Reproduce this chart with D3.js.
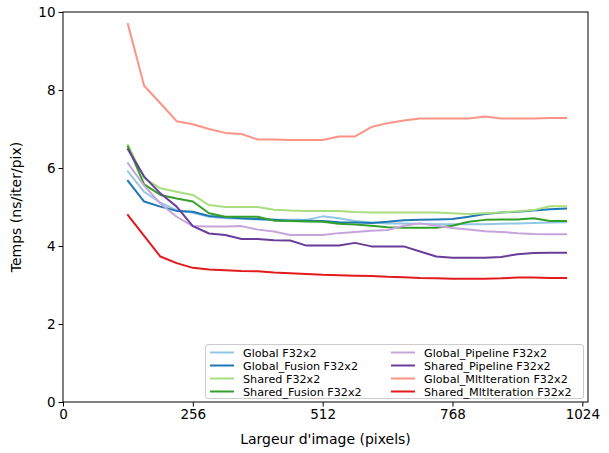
<!DOCTYPE html>
<html><head><meta charset="utf-8">
<script src="https://cdn.jsdelivr.net/npm/d3@7"></script>
<style>body{margin:0;background:#fff}svg text{font-family:"DejaVu Sans",sans-serif}</style>
</head><body>
<svg id="c" width="609" height="453"></svg>
<script>
const xValues = [128,160,192,224,256,288,320,352,384,416,448,480,512,544,576,608,640,672,704,736,768,800,832,864,896,928,960,992];
const seriesNames = ["Global F32x2","Global_Fusion F32x2","Shared F32x2","Shared_Fusion F32x2","Global_Pipeline F32x2","Shared_Pipeline F32x2","Global_MltIteration F32x2","Shared_MltIteration F32x2"];
const seriesColors = ["#92c6e6","#1f78b4","#a8dd80","#33a02c","#c6a4dc","#6a3d9a","#fb9486","#e31a1c"];
const globalF32 = [5.91,5.39,5.11,4.92,4.85,4.75,4.71,4.70,4.68,4.67,4.67,4.67,4.76,4.71,4.64,4.60,4.58,4.58,4.57,4.56,4.56,4.56,4.56,4.57,4.58,4.59,4.60,4.61];
const globalFusion = [5.67,5.14,5.01,4.90,4.88,4.77,4.74,4.71,4.69,4.67,4.65,4.65,4.64,4.61,4.60,4.59,4.62,4.66,4.67,4.68,4.69,4.75,4.82,4.86,4.88,4.91,4.94,4.96];
const sharedF32 = [6.59,5.74,5.48,5.39,5.31,5.05,5.00,5.00,5.00,4.93,4.91,4.90,4.90,4.90,4.87,4.86,4.86,4.86,4.86,4.86,4.84,4.82,4.84,4.86,4.89,4.92,5.02,5.02];
const sharedFusion = [6.55,5.58,5.31,5.22,5.14,4.84,4.75,4.75,4.75,4.65,4.64,4.63,4.62,4.57,4.55,4.52,4.48,4.47,4.47,4.47,4.52,4.62,4.67,4.68,4.68,4.71,4.64,4.64];
const globalPipeline = [6.12,5.55,5.09,4.75,4.51,4.50,4.50,4.51,4.42,4.37,4.28,4.28,4.28,4.33,4.36,4.39,4.41,4.52,4.58,4.52,4.46,4.42,4.38,4.36,4.33,4.31,4.30,4.30];
const sharedPipeline = [6.48,5.78,5.35,5.01,4.51,4.32,4.28,4.18,4.18,4.15,4.14,4.01,4.01,4.01,4.08,3.99,3.99,3.99,3.86,3.73,3.70,3.70,3.70,3.72,3.79,3.82,3.83,3.83];
const globalMlt = [9.69,8.11,7.66,7.20,7.12,7.00,6.90,6.87,6.73,6.73,6.72,6.72,6.72,6.81,6.81,7.05,7.15,7.22,7.27,7.27,7.27,7.27,7.32,7.27,7.27,7.27,7.28,7.28];
const sharedMlt = [4.79,4.26,3.73,3.56,3.44,3.40,3.38,3.36,3.35,3.32,3.30,3.28,3.26,3.25,3.24,3.23,3.21,3.20,3.18,3.17,3.16,3.16,3.16,3.17,3.19,3.19,3.18,3.18];
const xTicks = [0,256,512,768,1024];
const yTicks = [0,2,4,6,8,10];
const xLabel = "Largeur d'image (pixels)";
const yLabel = "Temps (ns/iter/pix)";

const allSeries = [globalF32,globalFusion,sharedF32,sharedFusion,globalPipeline,sharedPipeline,globalMlt,sharedMlt];
const L=63, R=588, T=12, B=402;
const svg = d3.select("#c");
const x = d3.scaleLinear().domain([0,1035.2]).range([L,R]);
const y = d3.scaleLinear().domain([0,10]).range([B,T]);

const line = d3.line().x((d,i)=>x(xValues[i])).y(d=>y(d));
const g = svg.append("g");
allSeries.forEach((s,k)=>{
  g.append("path").datum(s).attr("d",line).attr("fill","none")
   .attr("stroke",seriesColors[k]).attr("stroke-width",2).attr("stroke-linejoin","round").attr("stroke-linecap","square");
});

const xa = svg.append("g").attr("transform",`translate(0,${B})`)
  .call(d3.axisBottom(x).tickValues(xTicks).tickSize(4.5).tickPadding(3).tickFormat(d3.format("d")));
const ya = svg.append("g").attr("transform",`translate(${L},0)`)
  .call(d3.axisLeft(y).tickValues(yTicks).tickSize(4.5).tickPadding(3).tickFormat(d3.format("d")));
[xa,ya].forEach(a=>{a.select(".domain").remove();a.selectAll("text").attr("font-size",13.5).attr("font-family","DejaVu Sans").attr("fill","#000");a.selectAll("line").attr("stroke","#000");});

svg.append("rect").attr("x",L).attr("y",T).attr("width",R-L).attr("height",B-T)
  .attr("fill","none").attr("stroke","#000").attr("stroke-width",1);

svg.append("text").attr("x",(L+R)/2).attr("y",444).attr("text-anchor","middle").attr("font-size",14).text(xLabel);
svg.append("text").attr("transform",`translate(21,${(T+B)/2}) rotate(-90)`).attr("text-anchor","middle").attr("font-size",14).text(yLabel);

// legend
const lg = svg.append("g");
lg.append("rect").attr("x",205.5).attr("y",344.5).attr("width",378).attr("height",54).attr("rx",2.5)
  .attr("fill","#fff").attr("fill-opacity",0.8).attr("stroke","#ccc");
seriesNames.forEach((n,k)=>{
  const col = Math.floor(k/4), row = k%4;
  const lx = col===0 ? 210 : 391, ly = 352.5 + row*13;
  lg.append("line").attr("x1",lx).attr("x2",lx+24).attr("y1",ly).attr("y2",ly).attr("stroke",seriesColors[k]).attr("stroke-width",2);
  lg.append("text").attr("x",lx+33).attr("y",ly+4).attr("font-size",11.2).text(n);
});
</script>
</body></html>
